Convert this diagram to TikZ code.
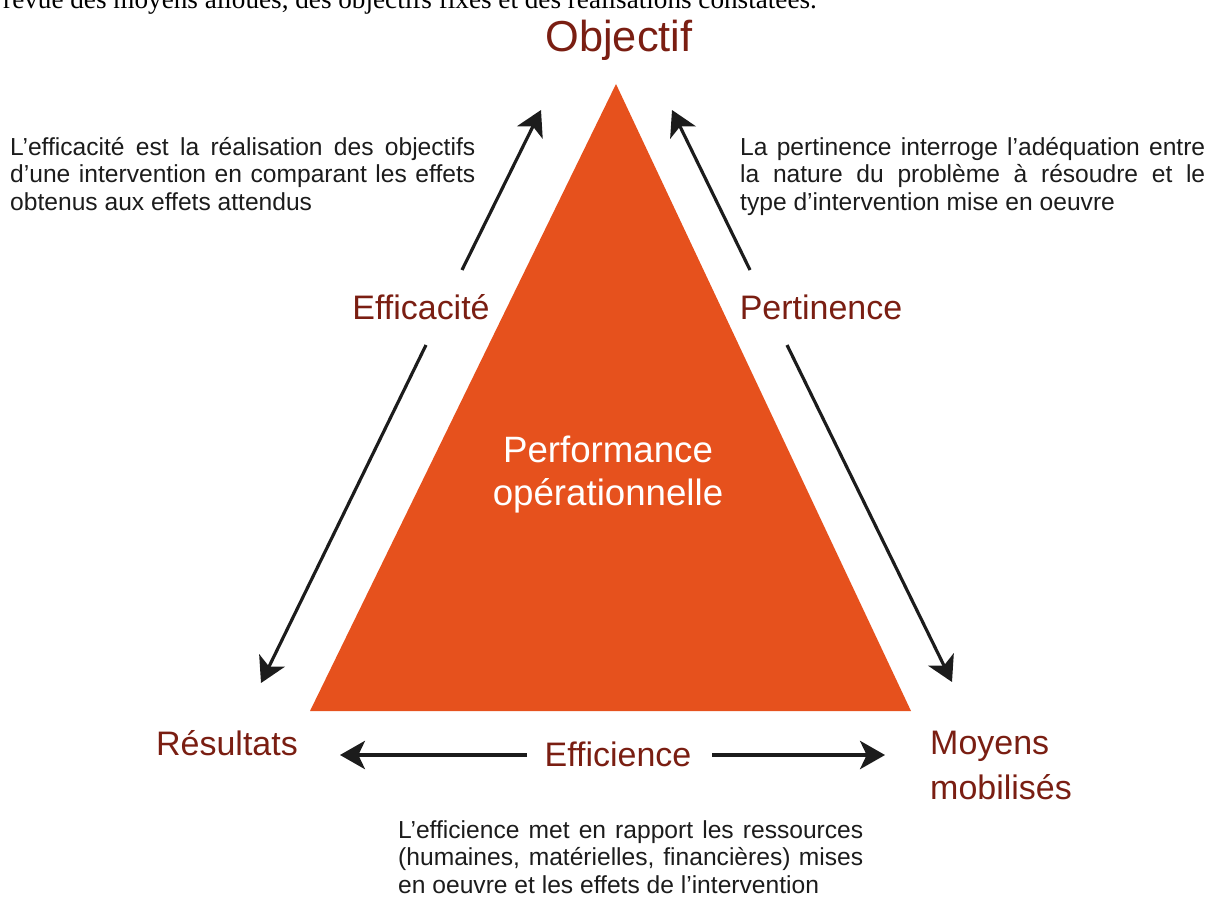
\documentclass[tikz,border=0pt]{standalone}
\usepackage{fontspec}
\setmainfont{Liberation Sans}
\newfontfamily\bodyserif{Liberation Serif}
\usetikzlibrary{arrows.meta,positioning}

\definecolor{critred}{HTML}{7A1E12}
\definecolor{triorange}{HTML}{E6511D}
\definecolor{inkgrey}{HTML}{1C1C1C}

\begin{document}
\begin{tikzpicture}[
    x=0.03cm,
    y=-0.03cm,
    crit/.style={
        text=critred,
        font=\fontsize{29pt}{37.6pt}\selectfont,
        inner sep=0pt,
        align=left
    },
    note/.style={
        text=inkgrey,
        font=\fontsize{21pt}{23.5pt}\selectfont,
        text width=13.95cm,
        align=justify,
        inner sep=0pt,
        anchor=north west
    },
    line/.style={
        draw=inkgrey, line width=2.7pt,
        -{Stealth[length=0.75cm,width=0.85cm,inset=0.2cm]}
    }
]
    \useasboundingbox (0,0) rectangle (1209,900);

    % Cut-off text line above
    \node [anchor=base west, inner sep=0pt, text=black,
           font=\bodyserif\fontsize{23.2pt}{27pt}\selectfont] (prev) at (3,9)
        {revue des moyens alloués, des objectifs fixés et des réalisations constatées.};

    % Triangle
    \coordinate (apex) at (616,84);
    \coordinate (baseL) at (310,711);
    \coordinate (baseR) at (911,711);
    \fill [triorange] (apex) -- (baseL) -- (baseR) -- cycle;
    \node [text=white, font=\fontsize{31.3pt}{36pt}\selectfont, align=center,
           inner sep=0pt, anchor=base] (perf) at (608,505)
        {Performance\\opérationnelle};

    % Corners and criteria
    \node [crit, font=\fontsize{37pt}{44pt}\selectfont, anchor=base] (obj) at (619,52) {Objectif};
    \node [crit, anchor=base] (res) at (227,755) {Résultats};
    \node [crit, anchor=base west] (moy) at (930,799) {Moyens\\mobilisés};
    \node [crit, anchor=base] (eff) at (421,319) {Efficacité};
    \node [crit, anchor=base] (pert) at (821,319) {Pertinence};
    \node [crit, anchor=base] (effi) at (618,766) {Efficience};

    % Notes
    \node [note] (noteEff) at (10,137)
        {L’efficacité est la réalisation des objectifs\linebreak
         d’une intervention en comparant les effets\linebreak
         obtenus aux effets attendus};
    \node [note] (notePert) at (740,137)
        {La pertinence interroge l’adéquation entre\linebreak
         la nature du problème à résoudre et le\linebreak
         type d’intervention mise en oeuvre};
    \node [note] (noteEffi) at (398,820)
        {L’efficience met en rapport les ressources\linebreak
         (humaines, matérielles, financières) mises\linebreak
         en oeuvre et les effets de l’intervention};

    % Arrow ends
    \coordinate (effTail) at (462,270);
    \coordinate (effHead) at (541,110);
    \coordinate (effTail2) at (426,345);
    \coordinate (effHead2) at (261,683);
    \coordinate (pertTail) at (750,270);
    \coordinate (pertHead) at (672,110);
    \coordinate (pertTail2) at (787,345);
    \coordinate (pertHead2) at (952,682);
    \coordinate (effiTailL) at (527,755);
    \coordinate (effiHeadL) at (340,755);
    \coordinate (effiTailR) at (712,755);
    \coordinate (effiHeadR) at (885,755);

    % Arrows
    \path [line] (effTail) -- (effHead);
    \path [line] (effTail2) -- (effHead2);
    \path [line] (pertTail) -- (pertHead);
    \path [line] (pertTail2) -- (pertHead2);
    \path [line] (effiTailL) -- (effiHeadL);
    \path [line] (effiTailR) -- (effiHeadR);

\end{tikzpicture}
\end{document}
